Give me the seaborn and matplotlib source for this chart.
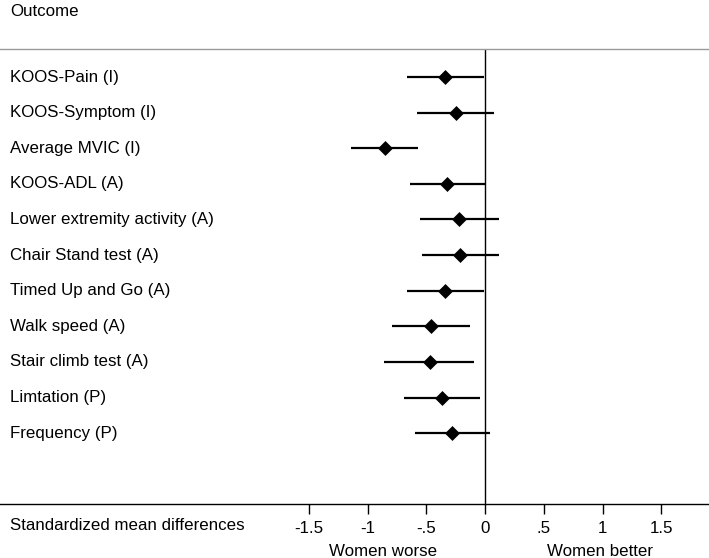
import numpy as np
import pandas as pd
import matplotlib.pyplot as plt
import seaborn as sns

sns.set_theme(style="white")
plt.rcParams["font.family"] = ["Liberation Sans", "DejaVu Sans"]
plt.rcParams["text.color"] = "black"
plt.rcParams["xtick.color"] = "black"

outcomes = ["KOOS-Pain (I)", "KOOS-Symptom (I)", "Average MVIC (I)", "KOOS-ADL (A)",
            "Lower extremity activity (A)", "Chair Stand test (A)", "Timed Up and Go (A)",
            "Walk speed (A)", "Stair climb test (A)", "Limtation (P)", "Frequency (P)"]
smd = [-0.34, -0.25, -0.85, -0.32, -0.22, -0.21, -0.34, -0.46, -0.47, -0.37, -0.28]
ci_low = [-0.66, -0.58, -1.14, -0.64, -0.55, -0.54, -0.66, -0.79, -0.86, -0.69, -0.60]
ci_high = [-0.01, 0.08, -0.57, 0.0, 0.12, 0.12, -0.01, -0.13, -0.09, -0.04, 0.04]
tick_vals = [-1.5, -1, -0.5, 0, 0.5, 1, 1.5]
tick_labels = ["-1.5", "-1", "-.5", "0", ".5", "1", "1.5"]

df = pd.DataFrame({"outcome": outcomes, "smd": smd, "lo": ci_low, "hi": ci_high})
df["row"] = np.arange(len(df))

fs = 12.2
fig = plt.figure(figsize=(7.09, 5.58), dpi=100)
ax = fig.add_axes([0, 1 - 504 / 558, 1, (504 - 49) / 558])

ax.hlines(df["row"], df["lo"], df["hi"], color="black", lw=1.6, zorder=2)
sns.scatterplot(data=df, x="smd", y="row", marker="D", s=58, color="black",
                edgecolor="black", linewidth=0, ax=ax, zorder=3)
ax.axvline(0, color="black", lw=1, zorder=1)

for r, name in zip(df["row"], df["outcome"]):
    ax.text(10 / 709, r, name, transform=ax.get_yaxis_transform(), ha="left",
            va="center", fontsize=fs)

ax.set_xlim(-4.128, 1.906)
ax.set_ylim(11.99, -0.787)
ax.set_xticks(tick_vals)
ax.set_xticklabels(tick_labels, fontsize=fs)
ax.set_yticks([])
ax.set_xlabel("")
ax.set_ylabel("")
ax.tick_params(axis="x", direction="out", length=7, width=1, color="black", pad=5,
               bottom=True)

for side in ["left", "right"]:
    ax.spines[side].set_visible(False)
ax.spines["bottom"].set_color("black")
ax.spines["bottom"].set_linewidth(1)
ax.spines["top"].set_color("#9a9a9a")
ax.spines["top"].set_linewidth(1)

fig.text(10 / 709, 1 - 525 / 558, "Standardized mean differences", ha="left",
         va="center", fontsize=fs)
fig.text(10 / 709, 1 - 11 / 558, "Outcome", ha="left", va="center", fontsize=fs)
fig.text(383 / 709, 1 - 551 / 558, "Women worse", ha="center", va="center", fontsize=fs)
fig.text(600 / 709, 1 - 551 / 558, "Women better", ha="center", va="center", fontsize=fs)

fig.savefig("out.png", dpi=100)
